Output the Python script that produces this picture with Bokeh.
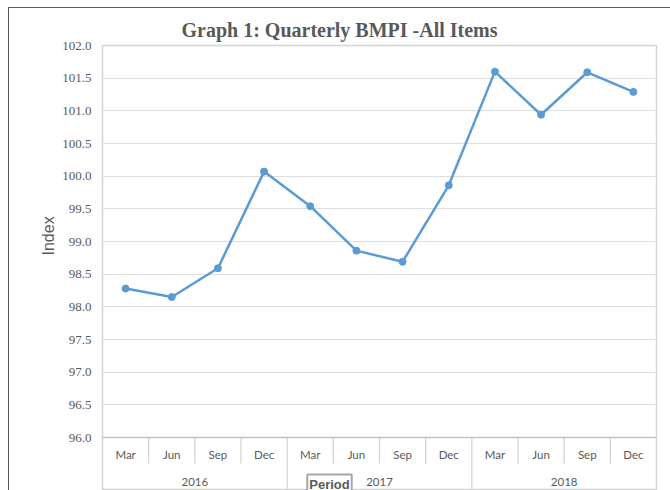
import numpy as np
from bokeh.plotting import figure
from bokeh.models import Range1d, FixedTicker, PrintfTickFormatter, Label, Span, Title
from bokeh.core.properties import value
from bokeh.embed import file_html
from bokeh.resources import INLINE

# ---- data ----
years = ["2016", "2017", "2018"]
months = ["Mar", "Jun", "Sep", "Dec"]
bmpi = [98.28, 98.15, 98.59, 100.07, 99.54, 98.86, 98.69, 99.86,
        101.60, 100.94, 101.59, 101.29]
y_ticks = [96.0, 96.5, 97.0, 97.5, 98.0, 98.5, 99.0, 99.5,
           100.0, 100.5, 101.0, 101.5, 102.0]

n = len(bmpi)
period_months = [m for _ in years for m in months]
x_pos = [i + 0.5 for i in range(n)]
year_pos = [len(months) * (k + 0.5) for k in range(len(years))]
month_bounds = [i for i in range(1, n) if i % len(months) != 0]
year_bounds = [len(months) * k for k in range(1, len(years))]

GRAY = "#595959"
LINE = "#5B9BD5"

W, H = 670, 490
left_border, right_border, top_border = 102, 14, 45
frame_w = W - left_border - right_border
frame_h = H - top_border
px_per_unit = 392 / 6.0
y_min = y_ticks[-1] - frame_h / px_per_unit

p = figure(width=W, height=H, output_backend="svg", toolbar_location=None,
           x_range=Range1d(0, n), y_range=Range1d(y_min, y_ticks[-1]),
           min_border_left=left_border, min_border_right=right_border,
           min_border_top=top_border, min_border_bottom=0,
           background_fill_color="white", border_fill_color=None)
p.styles = {
    "background": ("linear-gradient(#595959, #595959) 8px 7px / 1px 100% no-repeat, "
                   "linear-gradient(#595959, #595959) 8px 7px / 100% 1px no-repeat, "
                   "white")
}

# title
p.title.text = "Graph 1: Quarterly BMPI -All Items"
p.title.text_font = "Liberation Serif"
p.title.text_font_style = "bold"
p.title.text_font_size = "20px"
p.title.text_color = GRAY
p.title.align = "left"
p.title.offset = 79

# frame
p.outline_line_color = "#d4d4d4"
p.outline_line_width = 1.5

# axes
p.xaxis.visible = False
ya = p.yaxis[0]
ya.ticker = FixedTicker(ticks=y_ticks)
ya.formatter = PrintfTickFormatter(format="%.1f")
ya.axis_line_color = None
ya.major_tick_line_color = None
ya.minor_tick_line_color = None
ya.major_tick_out = 0
ya.major_tick_in = 0
ya.major_label_standoff = 11
ya.major_label_text_font = "Liberation Serif"
ya.major_label_text_font_size = "13px"
ya.major_label_text_color = GRAY

p.xgrid.visible = False
p.ygrid.ticker = FixedTicker(ticks=y_ticks)
p.ygrid.grid_line_color = "#dedede"
p.ygrid.grid_line_width = 1

# y-axis title, as a title in the left panel
p.add_layout(Title(text="Index", align="left", offset=H - top_border - 210,
                   text_font="Liberation Sans", text_font_size="16px",
                   text_font_style="normal", text_color=GRAY, standoff=6), "left")

# category axis drawing
p.add_layout(Span(location=y_ticks[0], dimension="width",
                  line_color="#c4c4c4", line_width=1.5))
month_sep_bottom = y_ticks[0] - 26 / px_per_unit
p.segment(x0=month_bounds, y0=y_ticks[0], x1=month_bounds, y1=month_sep_bottom,
          line_color="#d0d0d0", line_width=1.2)
p.segment(x0=year_bounds, y0=y_ticks[0], x1=year_bounds, y1=y_min,
          line_color="#d0d0d0", line_width=1.2)

p.text(x=x_pos, y=y_ticks[0] - 17 / px_per_unit, text=period_months,
       text_align="center", text_baseline="middle",
       text_font=value("Lato"), text_font_size="11.5px", text_color=GRAY)
p.text(x=year_pos, y=y_ticks[0] - 44 / px_per_unit, text=years,
       text_align="center", text_baseline="middle",
       text_font=value("Lato"), text_font_size="11.5px", text_color=GRAY)

# series
p.line(x_pos, bmpi, line_color=LINE, line_width=2.5)
p.scatter(x_pos, bmpi, size=7, fill_color=LINE, line_color=LINE)

# axis title box
p.add_layout(Label(x=(329 - left_border) / (frame_w / n), y=y_ticks[0] - 37 / px_per_unit,
                   text="Period", text_align="center", text_baseline="top",
                   text_font="Liberation Sans", text_font_style="bold",
                   text_font_size="13px", text_color=GRAY,
                   background_fill_color="white",
                   border_line_color="#a6a6a6", border_line_width=2,
                   padding=2))

open("out.html", "w").write(file_html(p, INLINE))
